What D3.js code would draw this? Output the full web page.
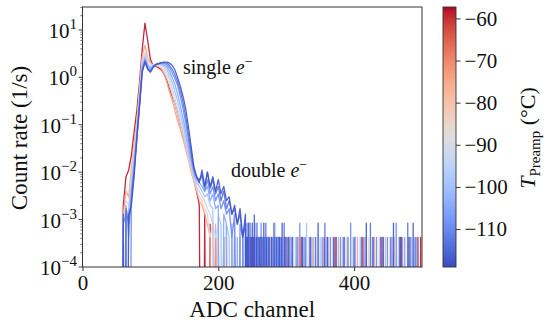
<!DOCTYPE html>
<html>
<head>
<meta charset="utf-8">
<script src="https://cdn.jsdelivr.net/npm/d3@7"></script>
<style>
  body { margin: 0; background: #fff; }
  svg { display: block; }
  text { font-family: "Liberation Serif", "Times New Roman", serif; fill: #111; }
</style>
</head>
<body>
<div id="graph-container"></div>
<script>
const width = 548, height = 327;

// histogram channels (main part of each spectrum)
const channels = [56, 60, 64, 68, 72, 76, 80, 84, 88, 92, 96, 100, 104, 108, 112, 116, 120, 124, 128, 132,
  136, 140, 144, 148, 152, 156, 160, 164, 168, 172, 176, 180, 184, 188, 192, 196, 200, 204, 208, 212,
  216, 220, 224, 228, 232, 236, 240];

// preamp temperatures (deg C), warm -> cold
const temps = [-58, -74, -84, -94, -100, -105, -110, -114, -118];

// count rates (1/s) per temperature
const rate_m58 = [0, 2e-3, 8e-3, 0.011, 0.023, 0.07, 0.2, 0.8, 4, 14,
  6, 2.4, 1.8, 1.7, 1.6, 1.45, 1.2, 0.9, 0.6, 0.4,
  0.28, 0.17, 0.1, 0.06, 0.035, 0.02, 0.012, 7e-3, 4e-3, 2e-3,
  0, 1.3e-3, 0, 8e-4, 0, 4.2e-4, 0, 0, 4.2e-4, 0,
  0, 0, 4.2e-4, 0, 0, 0, 0];
const rate_m74 = [0, 1.3e-3, 4e-3, 3e-3, 0.012, 0.04, 0.12, 0.6, 2.8, 4.8,
  2.6, 2.0, 1.85, 1.75, 1.7, 1.55, 1.2, 0.8, 0.5, 0.33,
  0.2, 0.12, 0.08, 0.05, 0.03, 0.018, 0.01, 6.5e-3, 4e-3, 2.5e-3,
  2e-3, 1.3e-3, 8e-4, 4.2e-4, 0, 8e-4, 0, 0, 4.2e-4, 0,
  0, 4.2e-4, 0, 0, 4.2e-4, 0, 0];
const rate_m84 = [0, 8e-4, 2.5e-3, 2e-3, 8e-3, 0.03, 0.1, 0.5, 2.3, 3.4,
  2.2, 1.9, 1.85, 1.8, 1.75, 1.65, 1.4, 1.0, 0.7, 0.45,
  0.28, 0.17, 0.1, 0.06, 0.035, 0.02, 0.011, 7e-3, 4.5e-3, 3e-3,
  2.5e-3, 1.7e-3, 1.3e-3, 4.2e-4, 8e-4, 0, 4.2e-4, 0, 0, 4.2e-4,
  0, 0, 4.2e-4, 0, 0, 4.2e-4, 0];
const rate_m94 = [0, 0, 1.7e-3, 1.3e-3, 6e-3, 0.02, 0.08, 0.4, 2.0, 3.0,
  2.0, 1.75, 1.85, 1.85, 1.85, 1.8, 1.6, 1.25, 0.9, 0.6,
  0.38, 0.22, 0.13, 0.075, 0.042, 0.023, 0.013, 8e-3, 5e-3, 4e-3,
  3e-3, 2.5e-3, 1.7e-3, 1.3e-3, 8e-4, 4.2e-4, 8e-4, 0, 4.2e-4, 4.2e-4,
  0, 4.2e-4, 0, 0, 0, 4.2e-4, 0];
const rate_m100 = [0, 1.3e-3, 0, 1.7e-3, 5e-3, 0.018, 0.07, 0.35, 1.8, 2.7,
  1.85, 1.6, 1.8, 1.9, 1.9, 1.85, 1.75, 1.5, 1.1, 0.8,
  0.52, 0.32, 0.18, 0.1, 0.055, 0.028, 0.015, 9e-3, 6e-3, 5e-3,
  4e-3, 3e-3, 3.5e-3, 2e-3, 1.7e-3, 0, 1.2e-3, 8e-4, 0, 8e-4,
  4.2e-4, 0, 8e-4, 0, 4.2e-4, 0, 4.2e-4];
const rate_m105 = [0, 0, 2e-3, 4.2e-4, 4e-3, 0.014, 0.06, 0.3, 1.6, 2.5,
  1.75, 1.5, 1.75, 1.9, 1.95, 1.95, 1.85, 1.7, 1.35, 1.0,
  0.72, 0.45, 0.26, 0.14, 0.07, 0.035, 0.018, 0.01, 7e-3, 6e-3,
  5e-3, 4e-3, 5e-3, 2.5e-3, 3.5e-3, 1.7e-3, 2e-3, 0, 1.3e-3, 8e-4,
  0, 8e-4, 0, 4.2e-4, 0, 4.2e-4, 0];
const rate_m110 = [0, 8e-4, 1.3e-3, 0, 3e-3, 0.012, 0.055, 0.28, 1.45, 2.3,
  1.6, 1.35, 1.7, 1.85, 1.95, 2.0, 2.0, 1.85, 1.6, 1.25,
  0.95, 0.68, 0.4, 0.22, 0.11, 0.05, 0.022, 0.011, 8e-3, 7e-3,
  8e-3, 4e-3, 7e-3, 3.5e-3, 5e-3, 2.5e-3, 3.5e-3, 1.7e-3, 2.5e-3, 1.3e-3,
  1.7e-3, 4.2e-4, 1.3e-3, 0, 8e-4, 4.2e-4, 0];
const rate_m114 = [0, 0, 1.7e-3, 8e-4, 2.5e-3, 0.01, 0.05, 0.25, 1.35, 2.2,
  1.5, 1.3, 1.65, 1.85, 1.95, 2.05, 2.05, 2.0, 1.8, 1.5,
  1.15, 0.82, 0.52, 0.3, 0.15, 0.065, 0.027, 0.012, 8e-3, 6.5e-3,
  9e-3, 5e-3, 1e-2, 4.5e-3, 7e-3, 3.5e-3, 5e-3, 2.5e-3, 4e-3, 1.7e-3,
  2.5e-3, 1.3e-3, 1.7e-3, 8e-4, 1.3e-3, 4.2e-4, 8e-4];
const rate_m118 = [0, 1.3e-3, 0, 1.3e-3, 2e-3, 8e-3, 0.05, 0.25, 1.3, 2.1,
  1.5, 1.3, 1.6, 1.85, 1.95, 2.05, 2.1, 2.1, 2.0, 1.8,
  1.45, 1.0, 0.65, 0.4, 0.22, 0.09, 0.035, 0.013, 8e-3, 6e-3,
  1.1e-2, 5e-3, 1e-2, 5e-3, 8e-3, 4e-3, 7e-3, 3.5e-3, 5e-3, 2.5e-3,
  3e-3, 1.3e-3, 2e-3, 8e-4, 1.7e-3, 4.2e-4, 1.3e-3];

// sparse tail above channel 240: [channel, counts]
const singleCount = 4.2e-4;
const tail_m58 = [[252,1],[268,1],[301,1],[322,1],[356,1],[372,1],[413,1],[441,1],[468,1],[494,1],[498,1]];
const tail_m74 = [[246,1],[262,1],[290,1],[318,1],[340,1],[377,1],[405,1],[430,1],[459,1],[480,1]];
const tail_m84 = [[249,1],[276,1],[305,1],[333,1],[362,1],[389,1],[421,1],[452,1],[476,1]];
const tail_m94 = [[243,1],[258,1],[284,2],[311,1],[345,1],[368,1],[398,1],[437,1],[465,1],[489,1]];
const tail_m100 = [[244,1],[255,2],[266,1],[281,1],[296,1],[314,1],[330,2],[350,1],[383,1],[409,1],[446,1],[471,1],[485,1]];
const tail_m105 = [[242,2],[250,1],[259,1],[271,1],[287,1],[299,1],[326,1],[338,1],[359,1],[386,1],[402,1],[427,1],[456,1],[474,1],[492,1]];
const tail_m110 = [[243,1],[247,2],[250,1],[254,1],[258,1],[263,2],[268,1],[273,1],[279,1],[285,1],[292,1],[300,1],[307,1],[320,2],[336,1],[353,1],[365,1],[380,1],[395,2],[416,1],[433,1],[449,1],[462,2],[483,1]];
const tail_m114 = [[245,2],[247,1],[251,1],[257,2],[261,1],[265,1],[270,2],[274,1],[279,1],[283,1],[289,1],[293,1],[297,2],[303,1],[316,1],[328,1],[343,1],[357,2],[374,1],[391,1],[411,1],[424,2],[439,1],[454,1],[467,1],[479,2],[490,1]];
const tail_m118 = [[242,1],[244,2],[248,1],[250,2],[253,3],[256,1],[260,1],[263,1],[267,2],[271,1],[275,1],[278,1],[282,2],[286,1],[290,1],[294,2],[298,1],[304,1],[309,1],[324,1],[335,1],[347,2],[361,1],[370,1],[385,1],[400,1],[418,2],[428,1],[443,1],[458,2],[470,1],[481,1],[487,2]];

const rates = [rate_m58, rate_m74, rate_m84, rate_m94, rate_m100, rate_m105, rate_m110, rate_m114, rate_m118];
const tails = [tail_m58, tail_m74, tail_m84, tail_m94, tail_m100, tail_m105, tail_m110, tail_m114, tail_m118];

// axis ticks
const xTicks = [0, 200, 400];
const yTicks = [1e-4, 1e-3, 1e-2, 1e-1, 1, 10];
const yExps = ["\u22124", "\u22123", "\u22122", "\u22121", "0", "1"];
const cbTicks = [-60, -70, -80, -90, -100, -110];

// matplotlib coolwarm
const coolwarm = ["#3b4cc0","#445acc","#4d68d7","#5775e1","#6282ea","#6c8ef1","#779af7","#82a5fb","#8db0fe",
  "#98b9ff","#a3c2ff","#aec9fd","#b8d0f9","#c2d5f4","#ccd9ee","#d5dbe6","#dddddd","#e5d8d1","#ecd3c5",
  "#f1ccb8","#f5c4ac","#f7bba0","#f7b194","#f7a689","#f49a7b","#f18d6f","#ec7f63","#e57059","#de604d",
  "#d55042","#cb3e38","#c0282f","#b40426"];

const pLeft = 82.5, pRight = 422, pTop = 7, pBottom = 267;
const cbLeft = 443, cbRight = 456;

const x = d3.scaleLinear().domain([0, 500]).range([pLeft, pRight]);
const y = d3.scaleLog().domain([1e-4, 30.5]).range([pBottom, pTop]);
const cb = d3.scaleLinear().domain([-119, -57.3]).range([pBottom, pTop]);
const color = d3.scaleSequential(d3.piecewise(d3.interpolateRgb, coolwarm)).domain([-119, -57.3]);

const svg = d3.select("#graph-container").append("svg")
  .attr("width", width)
  .attr("height", height)
  .attr("viewBox", [0, 0, width, height]);

const defs = svg.append("defs");
defs.append("clipPath").attr("id", "plot-clip")
  .append("rect")
  .attr("x", pLeft).attr("y", pTop)
  .attr("width", pRight - pLeft).attr("height", pBottom - pTop);

const series = temps.map((t, i) => {
  const pts = channels.map((c, j) => [c, rates[i][j]]);
  const spikes = new Map(tails[i]);
  for (let c = 241; c <= 500; c++) pts.push([c, (spikes.get(c) || 0) * singleCount]);
  return { t, pts };
});

const line = d3.line()
  .x(d => x(d[0]))
  .y(d => d[1] > 0 ? y(d[1]) : pBottom + 400);

svg.append("g")
  .attr("clip-path", "url(#plot-clip)")
  .selectAll("path")
  .data(series)
  .join("path")
  .attr("fill", "none")
  .attr("stroke", d => color(d.t))
  .attr("stroke-width", 1.3)
  .attr("stroke-opacity", 0.9)
  .attr("stroke-linejoin", "round")
  .attr("d", d => line(d.pts));

// frame
svg.append("rect")
  .attr("x", pLeft).attr("y", pTop)
  .attr("width", pRight - pLeft).attr("height", pBottom - pTop)
  .attr("fill", "none").attr("stroke", "#333").attr("stroke-width", 1);

// x axis
const gx = svg.append("g")
  .attr("transform", `translate(0,${pBottom})`)
  .call(d3.axisBottom(x).tickValues(xTicks).tickSize(4).tickPadding(4));
gx.select(".domain").remove();
gx.selectAll(".tick line").attr("stroke", "#333");
gx.selectAll(".tick text").attr("font-size", 21).attr("fill", "#111")
  .attr("font-family", "Liberation Serif, serif").attr("dy", "0.71em");

// y axis: major + minor ticks
const gy = svg.append("g").attr("transform", `translate(${pLeft},0)`);
const minor = [];
for (let e = -4; e <= 1; e++) for (let m = 2; m <= 9; m++) {
  const v = m * Math.pow(10, e);
  if (v < 30.5) minor.push(v);
}
gy.selectAll(".minor").data(minor).join("line")
  .attr("class", "minor")
  .attr("x1", -2.2).attr("x2", 0)
  .attr("y1", d => y(d)).attr("y2", d => y(d))
  .attr("stroke", "#333").attr("stroke-width", 0.7);
gy.selectAll(".major").data(yTicks).join("line")
  .attr("class", "major")
  .attr("x1", -4).attr("x2", 0)
  .attr("y1", d => y(d)).attr("y2", d => y(d))
  .attr("stroke", "#333").attr("stroke-width", 0.9);
const ylab = gy.selectAll(".ylab").data(yTicks).join("text")
  .attr("class", "ylab")
  .attr("x", -5.5)
  .attr("y", d => y(d) + 8)
  .attr("text-anchor", "end");
ylab.append("tspan").attr("font-size", 21).text("10");
ylab.append("tspan").attr("font-size", 15).attr("dy", -9).text((d, i) => yExps[i]);

// axis labels
svg.append("text")
  .attr("x", (pLeft + pRight) / 2).attr("y", 317)
  .attr("text-anchor", "middle").attr("font-size", 23)
  .text("ADC channel");
svg.append("text")
  .attr("transform", "translate(27,138) rotate(-90)")
  .attr("text-anchor", "middle").attr("font-size", 23)
  .text("Count rate (1/s)");

// annotations
const a1 = svg.append("text").attr("x", 183).attr("y", 74).attr("font-size", 20);
a1.append("tspan").text("single ");
a1.append("tspan").attr("font-style", "italic").text("e");
a1.append("tspan").attr("dy", -8).attr("font-size", 14).text("\u2212");
const a2 = svg.append("text").attr("x", 231).attr("y", 177).attr("font-size", 20);
a2.append("tspan").text("double ");
a2.append("tspan").attr("font-style", "italic").text("e");
a2.append("tspan").attr("dy", -8).attr("font-size", 14).text("\u2212");

// colorbar
const grad = defs.append("linearGradient")
  .attr("id", "cbar").attr("x1", 0).attr("y1", 1).attr("x2", 0).attr("y2", 0);
d3.range(0, 1.0001, 0.02).forEach(t => {
  grad.append("stop").attr("offset", t).attr("stop-color", color(-119 + t * 61.7));
});
svg.append("rect")
  .attr("x", cbLeft).attr("y", pTop)
  .attr("width", cbRight - cbLeft).attr("height", pBottom - pTop)
  .attr("fill", "url(#cbar)")
  .attr("stroke", "#333").attr("stroke-width", 0.9);

const gc = svg.append("g")
  .attr("transform", `translate(${cbRight},0)`)
  .call(d3.axisRight(cb).tickValues(cbTicks).tickSize(4.5).tickPadding(4)
    .tickFormat(d => "\u2212" + Math.abs(d)));
gc.select(".domain").remove();
gc.selectAll(".tick line").attr("stroke", "#333");
gc.selectAll(".tick text").attr("font-size", 21).attr("fill", "#111")
  .attr("font-family", "Liberation Serif, serif");

const cl = svg.append("text")
  .attr("transform", "translate(535,138) rotate(-90)")
  .attr("text-anchor", "middle").attr("font-size", 22);
cl.append("tspan").attr("font-style", "italic").text("T");
cl.append("tspan").attr("font-size", 15).attr("dy", 5).text("Preamp");
cl.append("tspan").attr("dy", -5).text(" (\u00b0C)");
</script>
</body>
</html>
